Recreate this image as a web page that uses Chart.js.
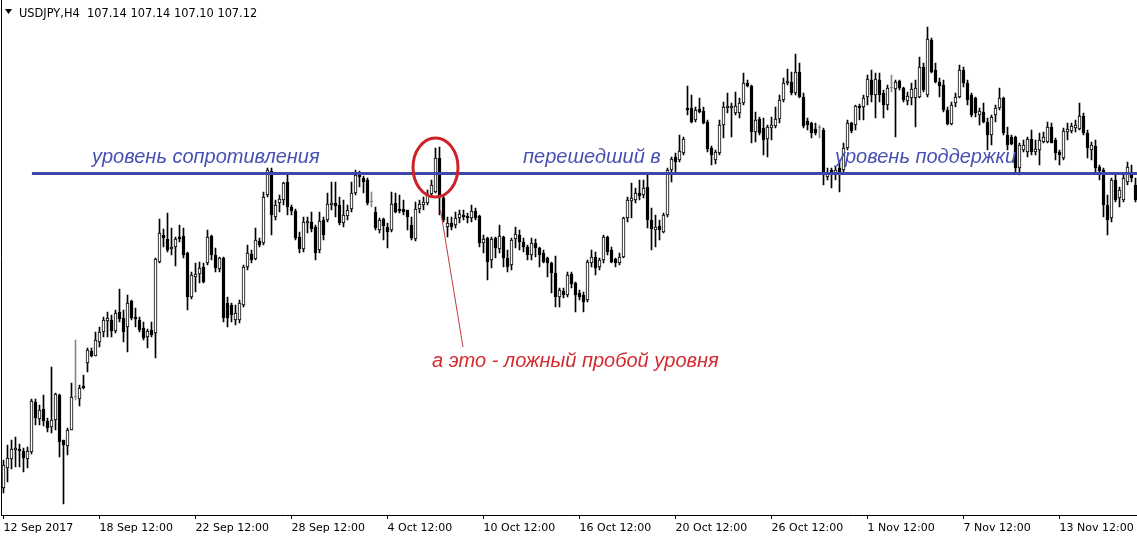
<!DOCTYPE html>
<html><head><meta charset="utf-8">
<script src="https://cdn.jsdelivr.net/npm/chart.js@4.4.0/dist/chart.umd.min.js"></script>
<style>html,body{margin:0;padding:0;background:#fff;overflow:hidden}#wrap{position:relative;width:1137px;height:540px}</style>
</head><body><div id="wrap"><canvas id="c" width="1137" height="540"></canvas></div>
<script>
const symbolTitle = 'USDJPY,H4';
const lastQuote = ['107.14', '107.14', '107.10', '107.12'];
const tickIndex = [0, 24, 48, 72, 96, 120, 144, 168, 192, 216, 240, 264];
const tickLabels = ['12 Sep 2017', '18 Sep 12:00', '22 Sep 12:00', '28 Sep 12:00', '4 Oct 12:00', '10 Oct 12:00', '16 Oct 12:00', '20 Oct 12:00', '26 Oct 12:00', '1 Nov 12:00', '7 Nov 12:00', '13 Nov 12:00'];

const openP = [
108.12,108.32,108.41,108.50,108.51,108.49,108.41,108.48,108.98,108.81,
108.91,108.79,108.73,108.80,109.05,108.60,108.54,108.70,109.03,109.01,
109.14,109.37,109.49,109.44,109.58,109.68,109.79,109.80,109.69,109.88,
109.82,109.73,109.99,109.83,109.80,109.72,109.63,109.70,109.67,110.38,
110.65,110.61,110.51,110.53,110.63,110.64,110.47,110.03,110.23,110.26,
110.33,110.37,110.64,110.45,110.31,110.42,109.97,109.95,109.80,109.80,
109.95,110.33,110.46,110.41,110.59,110.57,111.05,111.29,110.83,110.97,
111.00,111.18,110.93,110.89,110.63,110.51,110.77,110.78,110.73,110.50,
110.80,110.80,110.95,110.97,110.95,110.77,110.84,110.91,111.07,111.26,
111.22,111.20,110.98,110.88,110.70,110.81,110.73,110.70,110.97,110.91,
110.91,110.90,110.75,110.61,110.91,110.95,110.97,111.06,111.08,111.42,
111.02,110.73,110.77,110.75,110.82,110.85,110.84,110.82,110.89,110.84,
110.57,110.62,110.40,110.62,110.51,110.63,110.42,110.35,110.61,110.65,
110.58,110.53,110.45,110.57,110.52,110.47,110.42,110.37,110.27,110.03,
110.09,110.05,110.26,110.17,110.07,110.05,110.00,110.37,110.43,110.33,
110.40,110.63,110.50,110.41,110.37,110.43,110.82,110.99,111.00,111.07,
111.05,111.13,110.80,110.70,110.74,110.68,110.85,111.30,111.43,111.40,
111.47,111.92,111.92,111.80,111.91,111.89,111.78,111.52,111.40,111.47,
111.75,111.92,111.92,111.87,111.87,111.97,112.17,112.14,111.68,111.81,
111.72,111.61,111.72,111.74,111.81,112.00,112.17,112.18,112.07,112.28,
112.03,111.79,111.77,111.71,111.72,111.70,111.23,111.30,111.27,111.32,
111.30,111.52,111.77,111.75,111.94,111.93,112.03,112.20,112.05,112.20,
112.07,111.95,112.12,112.11,112.19,112.12,111.99,112.02,112.02,112.03,
112.33,112.05,112.60,112.30,112.18,112.15,111.90,111.76,111.97,112.03,
112.30,112.17,112.05,112.02,111.85,111.88,111.78,111.65,111.85,111.92,
112.02,111.65,111.63,111.63,111.32,111.50,111.48,111.61,111.48,111.50,
111.58,111.58,111.73,111.60,111.48,111.42,111.68,111.69,111.72,111.71,
111.84,111.67,111.50,111.54,111.33,111.30,110.95,110.82,111.20,111.02,
111.00,111.18,111.28,111.15];

const highP = [
108.40,108.55,108.60,108.63,108.56,108.52,108.53,109.01,109.01,108.95,
109.05,108.82,109.33,109.07,109.06,108.60,108.72,109.17,109.60,109.15,
109.25,109.52,109.52,109.68,109.73,109.83,109.88,109.85,109.90,110.11,
109.90,110.05,110.00,109.92,109.83,109.78,109.71,109.78,110.42,110.81,
110.71,110.87,110.72,110.63,110.75,110.72,110.48,110.28,110.37,110.38,
110.37,110.70,110.65,110.52,110.43,110.43,110.03,109.97,109.95,110.00,
110.35,110.55,110.50,110.72,110.62,111.08,111.32,111.32,111.00,111.05,
111.18,111.27,110.95,110.91,110.68,110.83,110.83,110.88,110.75,110.88,
110.83,111.07,111.18,111.18,111.03,111.00,110.95,111.18,111.30,111.29,
111.24,111.22,111.08,110.93,110.82,110.82,110.77,111.08,111.07,111.05,
111.00,110.90,110.83,110.98,111.00,111.03,111.10,111.20,111.52,111.53,
111.04,110.83,110.83,110.88,110.90,110.90,110.87,110.95,110.92,110.85,
110.65,110.63,110.63,110.63,110.75,110.64,110.50,110.62,110.73,110.70,
110.62,110.55,110.62,110.61,110.53,110.50,110.43,110.38,110.44,110.12,
110.12,110.28,110.28,110.18,110.10,110.08,110.40,110.50,110.48,110.42,
110.65,110.64,110.53,110.42,110.47,110.83,111.03,111.17,111.12,111.20,
111.20,111.25,110.92,110.85,110.80,110.87,111.32,111.43,111.47,111.65,
111.63,112.14,112.05,111.93,112.02,111.93,111.80,111.54,111.50,111.80,
111.98,112.07,111.97,112.08,112.02,112.27,112.20,112.15,111.88,111.83,
111.82,111.75,111.83,111.93,112.05,112.22,112.31,112.28,112.46,112.37,
112.07,111.82,111.78,111.77,111.75,111.72,111.32,111.32,111.33,111.40,
111.57,111.80,111.78,111.95,111.96,112.05,112.25,112.30,112.27,112.27,
112.10,112.15,112.25,112.20,112.20,112.13,112.08,112.17,112.20,112.43,
112.37,112.73,112.62,112.37,112.22,112.20,111.93,111.98,112.07,112.35,
112.33,112.20,112.07,112.03,111.92,111.97,111.82,111.85,111.95,112.12,
112.03,111.73,111.65,111.64,111.57,111.60,111.63,111.70,111.60,111.67,
111.68,111.78,111.77,111.62,111.50,111.72,111.77,111.77,111.80,111.97,
111.87,111.70,111.58,111.60,111.35,111.32,111.05,111.22,111.25,111.13,
111.25,111.38,111.35,111.22];

const lowP = [
108.07,108.18,108.31,108.33,108.33,108.28,108.32,108.46,108.75,108.75,
108.74,108.68,108.67,108.70,108.43,107.96,108.45,108.70,109.00,108.94,
109.11,109.28,109.43,109.44,109.53,109.63,109.63,109.63,109.67,109.78,
109.58,109.48,109.80,109.73,109.68,109.60,109.52,109.63,109.42,110.37,
110.53,110.48,110.45,110.34,110.58,110.42,109.90,110.01,110.08,110.17,
110.17,110.35,110.40,110.28,110.28,109.78,109.73,109.78,109.75,109.77,
109.93,110.30,110.37,110.40,110.53,110.55,111.03,110.65,110.80,110.88,
110.95,110.85,110.85,110.60,110.47,110.48,110.67,110.68,110.40,110.47,
110.60,110.78,110.90,110.83,110.75,110.73,110.80,110.88,111.05,111.13,
111.07,110.95,110.93,110.70,110.67,110.60,110.52,110.68,110.87,110.87,
110.85,110.70,110.60,110.59,110.87,110.90,110.95,111.03,111.07,110.85,
110.78,110.63,110.70,110.72,110.77,110.80,110.77,110.78,110.80,110.53,
110.47,110.20,110.32,110.42,110.47,110.33,110.28,110.30,110.52,110.50,
110.48,110.40,110.40,110.43,110.33,110.37,110.23,110.07,109.93,109.93,
110.02,110.03,110.12,109.88,110.00,109.88,109.98,110.33,110.25,110.30,
110.37,110.45,110.37,110.33,110.35,110.42,110.78,110.82,110.97,111.00,
111.02,110.72,110.50,110.53,110.60,110.67,110.83,111.18,111.28,111.38,
111.45,111.85,111.77,111.78,111.87,111.76,111.48,111.35,111.36,111.45,
111.62,111.87,111.63,111.85,111.82,111.95,112.13,111.57,111.58,111.65,
111.45,111.43,111.60,111.72,111.77,111.98,112.15,112.05,112.05,112.02,
111.72,111.70,111.62,111.65,111.62,111.15,111.20,111.12,111.20,111.08,
111.28,111.50,111.67,111.70,111.80,111.80,111.95,111.98,111.82,111.98,
111.82,111.90,112.08,111.63,112.10,111.98,111.95,111.95,111.73,112.02,
112.08,112.03,112.27,112.17,112.03,111.88,111.75,111.75,111.93,112.02,
112.13,111.95,111.83,111.83,111.75,111.77,111.50,111.55,111.78,111.90,
111.65,111.50,111.55,111.27,111.25,111.48,111.43,111.45,111.45,111.35,
111.57,111.57,111.57,111.40,111.35,111.40,111.60,111.67,111.68,111.70,
111.65,111.42,111.40,111.28,111.20,110.83,110.65,110.78,110.98,110.93,
110.98,111.15,111.18,110.98];

const closeP = [
108.35,108.42,108.51,108.52,108.49,108.42,108.49,108.99,108.82,108.90,
108.79,108.72,108.80,109.06,108.58,108.55,108.70,109.03,109.03,109.12,
109.12,109.50,109.44,109.60,109.68,109.80,109.82,109.69,109.87,109.81,
109.68,109.97,109.82,109.81,109.70,109.62,109.69,109.65,110.41,110.67,
110.62,110.50,110.53,110.61,110.61,110.45,110.03,110.25,110.26,110.32,
110.18,110.63,110.45,110.32,110.42,109.82,109.82,109.85,109.87,109.97,
110.33,110.47,110.40,110.60,110.55,111.03,111.30,110.85,110.95,111.01,
111.17,110.93,110.89,110.62,110.51,110.78,110.79,110.71,110.47,110.79,
110.65,110.96,110.97,110.94,110.77,110.85,110.90,111.07,111.25,111.23,
111.18,110.97,110.98,110.72,110.80,110.74,110.68,110.96,110.88,110.89,
110.88,110.83,110.62,110.91,110.96,110.98,111.05,111.15,111.42,111.04,
110.80,110.77,110.73,110.82,110.86,110.83,110.82,110.89,110.82,110.57,
110.61,110.38,110.61,110.52,110.64,110.42,110.33,110.60,110.66,110.58,
110.53,110.45,110.57,110.52,110.45,110.38,110.37,110.27,110.03,110.10,
110.05,110.25,110.16,110.05,110.03,109.98,110.38,110.43,110.32,110.40,
110.63,110.48,110.38,110.37,110.43,110.82,111.00,111.02,111.07,111.04,
111.12,110.80,110.71,110.73,110.70,110.85,111.30,111.41,111.38,111.49,
111.61,111.90,111.78,111.90,111.88,111.77,111.51,111.45,111.48,111.75,
111.93,111.94,111.94,111.94,111.97,112.17,112.14,111.68,111.80,111.67,
111.60,111.73,111.75,111.81,112.00,112.17,112.19,112.07,112.28,112.03,
111.74,111.75,111.67,111.67,111.72,111.25,111.27,111.27,111.30,111.28,
111.52,111.77,111.69,111.94,111.92,112.02,112.21,112.05,112.21,112.05,
111.95,112.12,112.12,112.18,112.12,112.00,112.04,112.11,112.12,112.33,
112.10,112.61,112.28,112.18,112.14,111.90,111.76,111.95,112.03,112.30,
112.17,112.00,111.85,111.87,111.89,111.78,111.65,111.83,111.92,112.02,
111.67,111.55,111.56,111.32,111.55,111.55,111.61,111.48,111.51,111.60,
111.63,111.73,111.57,111.47,111.45,111.69,111.71,111.74,111.75,111.84,
111.67,111.52,111.55,111.32,111.29,110.95,110.80,111.20,111.00,111.10,
111.22,111.33,111.22,111.00];

const levelPrice = 111.265;
const levelFrom = 7.1;

const labelBlue = 'уровень сопротивления';
const labelMid = 'перешедший в';
const labelSupport = 'уровень поддержки';
const labelFalse = 'а это - ложный пробой уровня';

// annotation anchors in data units (bar index, price)
const notes = [
  { text: labelBlue, i: 22.125, p: 111.37, color: '#4650b2' },
  { text: labelMid, i: 129.875, p: 111.37, color: '#4650b2' },
  { text: labelSupport, i: 207.875, p: 111.37, color: '#4650b2' },
  { text: labelFalse, i: 107.125, p: 109.33, color: '#d42a2e' }
];
const ring = { i: 108, p: 111.325, rx: 22.5, ry: 29.5 };
const pointer = [{ i: 109.25, p: 110.90 }, { i: 114.875, p: 109.53 }];

const DOJI = '#8a8a8a';
const n = openP.length;
const bodies = [], wicks = [], bodyBg = [], bodyBorder = [], wickCol = [];
for (let i = 0; i < n; i++) {
  const o = openP[i], c = closeP[i];
  const doji = o === c;
  bodies.push({ x: i, y: doji ? [o, o + 0.01] : [o, c] });
  wicks.push({ x: i, y: [lowP[i], highP[i]] });
  bodyBg.push(doji ? DOJI : (c > o ? '#ffffff' : '#000000'));
  bodyBorder.push(doji ? DOJI : '#000000');
  wickCol.push(doji ? DOJI : '#000000');
}

const overlay = {
  id: 'overlay',
  afterDatasetsDraw(chart) {
    const { ctx, chartArea, scales: { x, y } } = chart;
    ctx.save();
    // left frame
    ctx.strokeStyle = '#000'; ctx.lineWidth = 1;
    ctx.beginPath(); ctx.moveTo(chartArea.left, chartArea.top); ctx.lineTo(chartArea.left, chartArea.bottom); ctx.stroke();
    // pointer line
    ctx.strokeStyle = '#c0393c'; ctx.lineWidth = 1;
    ctx.beginPath();
    ctx.moveTo(x.getPixelForValue(pointer[0].i), y.getPixelForValue(pointer[0].p));
    ctx.lineTo(x.getPixelForValue(pointer[1].i), y.getPixelForValue(pointer[1].p));
    ctx.stroke();
    // ring
    ctx.strokeStyle = '#cc2229'; ctx.lineWidth = 3;
    ctx.beginPath();
    ctx.ellipse(x.getPixelForValue(ring.i), y.getPixelForValue(ring.p), ring.rx, ring.ry, 0, 0, Math.PI * 2);
    ctx.stroke();
    // texts
    ctx.font = 'italic 20px "Liberation Sans", Arial, sans-serif';
    ctx.textAlign = 'left'; ctx.textBaseline = 'alphabetic';
    notes.forEach(nt => {
      ctx.fillStyle = nt.color;
      ctx.fillText(nt.text, x.getPixelForValue(nt.i), y.getPixelForValue(nt.p));
    });
    // header
    ctx.fillStyle = '#000';
    ctx.beginPath(); ctx.moveTo(5, 9); ctx.lineTo(12, 9); ctx.lineTo(8.5, 14); ctx.closePath(); ctx.fill();
    ctx.font = '11.4px "DejaVu Sans", sans-serif';
    ctx.fillText(symbolTitle + '  ' + lastQuote.join(' '), 19, 17);
    ctx.restore();
  }
};

new Chart(document.getElementById('c'), {
  type: 'bar',
  data: {
    datasets: [
      { type: 'line', data: [{ x: levelFrom, y: levelPrice }, { x: 283.375, y: levelPrice }], borderColor: '#3f48aa', borderWidth: 3, pointRadius: 0, order: 0 },
      { data: bodies, backgroundColor: bodyBg, borderColor: bodyBorder, borderWidth: 1, borderSkipped: false, barThickness: 3, grouped: false, order: 1 },
      { data: wicks, backgroundColor: wickCol, borderWidth: 0, barThickness: 1, grouped: false, order: 2 }
    ]
  },
  plugins: [overlay],
  options: {
    responsive: false,
    animation: false,
    layout: { padding: { left: 1.5, top: 0, right: 0, bottom: 0 } },
    plugins: { legend: { display: false }, tooltip: { enabled: false } },
    scales: {
      x: {
        type: 'linear', min: -0.5, max: 283.375, offset: false,
        afterBuildTicks: (s) => { s.ticks = tickIndex.map(v => ({ value: v })); },
        afterFit: (s) => { s.height = 25; },
        grid: { display: true, drawOnChartArea: false, drawTicks: true, tickLength: 4, color: '#000', offset: false },
        border: { display: true, color: '#000', width: 1 },
        ticks: {
          autoSkip: false, maxRotation: 0, align: 'start', padding: 3, color: '#000',
          font: { family: '"DejaVu Sans", sans-serif', size: 11 },
          callback: (v, idx) => tickLabels[idx]
        }
      },
      y: { type: 'linear', display: false, min: 107.85, max: 113.0 }
    }
  }
});
</script>
</body></html>
